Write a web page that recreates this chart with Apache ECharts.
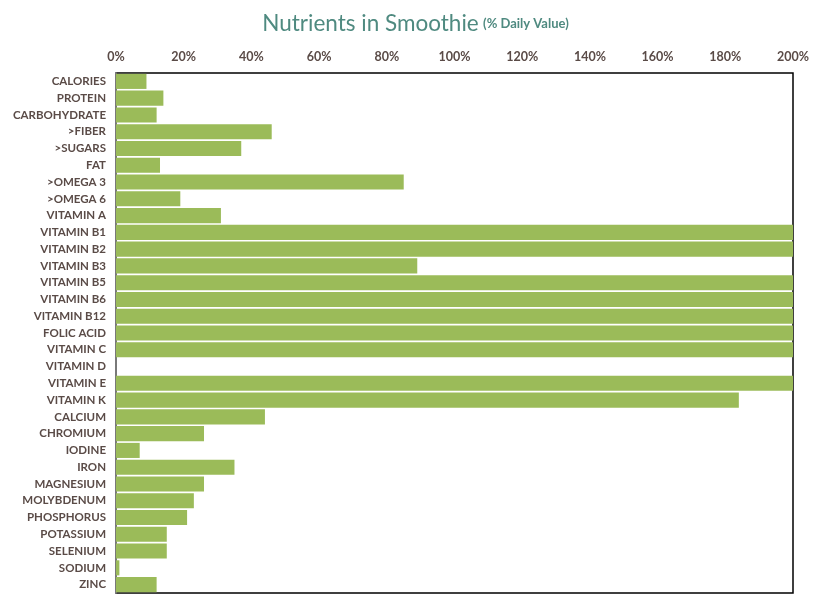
<!DOCTYPE html>
<html><head><meta charset="utf-8">
<script src="https://cdn.jsdelivr.net/npm/echarts@6/dist/echarts.min.js"></script>
<style>html,body{margin:0;padding:0;background:#fff}#c{width:831px;height:615px}</style>
</head><body><div id="c"></div>
<script>
const categories = ["CALORIES","PROTEIN","CARBOHYDRATE",">FIBER",">SUGARS","FAT",">OMEGA 3",">OMEGA 6","VITAMIN A","VITAMIN B1","VITAMIN B2","VITAMIN B3","VITAMIN B5","VITAMIN B6","VITAMIN B12","FOLIC ACID","VITAMIN C","VITAMIN D","VITAMIN E","VITAMIN K","CALCIUM","CHROMIUM","IODINE","IRON","MAGNESIUM","MOLYBDENUM","PHOSPHORUS","POTASSIUM","SELENIUM","SODIUM","ZINC"];
const values = [9,14,12,46,37,13,85,19,31,200,200,89,200,200,200,200,200,0,200,184,44,26,7,35,26,23,21,15,15,1,12];
const xTicks = {min:0, max:200, interval:20};

const chart = echarts.init(document.getElementById('c'));
chart.setOption({
  animation:false,
  textStyle:{fontFamily:'Lato'},
  title:{
    left:'center', top:7,
    text:'{a|Nutrients in Smoothie} {b|(% Daily Value)}',
    textStyle:{rich:{
      a:{fontSize:22.5,fontFamily:'Lato',color:'#4f8a80',fontWeight:'normal'},
      b:{fontSize:13,fontFamily:'Lato',color:'#4f8a80'}
    }}
  },
  grid:{left:116,right:38,top:73,bottom:22,show:true,borderColor:'#000',borderWidth:1.5,containLabel:false},
  xAxis:{
    type:'value', position:'top', min:xTicks.min, max:xTicks.max, interval:xTicks.interval,
    axisLine:{show:false}, axisTick:{show:false}, splitLine:{show:false},
    axisLabel:{formatter:'{value}%', color:'#5a4b47', fontWeight:'bold', fontSize:12.5, margin:10}
  },
  yAxis:{
    type:'category', data:categories, inverse:true,
    axisLine:{show:true,lineStyle:{color:'#8c8c8c',width:1.5}}, axisTick:{show:false},
    axisLabel:{color:'#5a4b47', fontWeight:'bold', fontSize:11.5, margin:10}
  },
  series:[{
    type:'bar', data:values, barCategoryGap:'10%',
    itemStyle:{color:'#9bbb59'}
  }]
});
</script></body></html>
